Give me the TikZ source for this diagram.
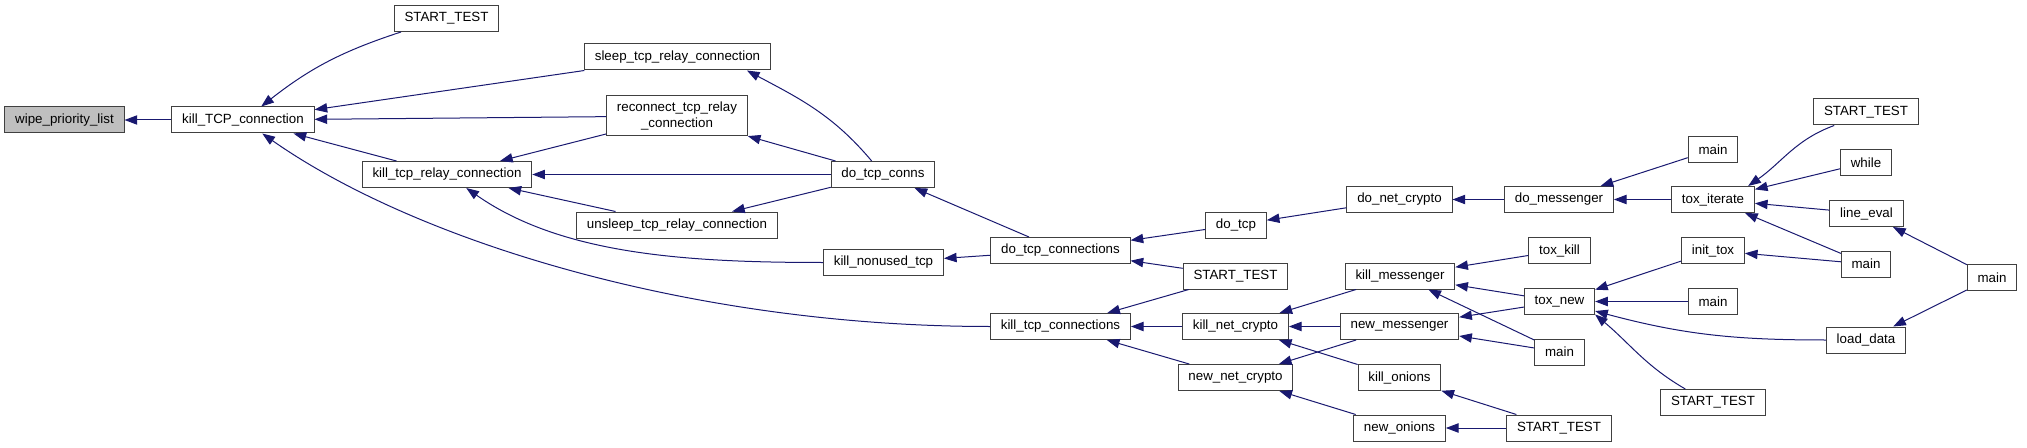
\documentclass[tikz,border=0pt]{standalone}
\usepackage{fontspec}
\setmainfont{Liberation Sans}
\usetikzlibrary{arrows.meta}
\definecolor{midnight}{HTML}{191970}
\definecolor{curgray}{HTML}{BFBFBF}
\begin{document}
\begin{tikzpicture}[x=0.75pt,y=0.75pt,
  func/.style={draw=black!75,line width=0.75pt,fill=white,minimum height=19.5pt,inner xsep=7.7pt,inner ysep=0pt,font=\fontsize{10}{11.5}\selectfont,align=center},
  call/.style={draw=midnight,line width=0.75pt,arrows={Triangle[length=9.5pt,width=7pt,fill=midnight]-}}]
\useasboundingbox (0,0) rectangle (2027,447);
\node[func,fill=curgray] (wipe) at (64.5,327) {wipe\_priority\_list};
\node[func] (ktcp) at (243,327) {kill\_TCP\_connection};
\node[func] (st1) at (446.5,428.5) {START\_TEST};
\node[func] (sleep) at (677.5,390) {sleep\_tcp\_relay\_connection};
\node[func,minimum height=30pt] (reconn) at (677,331) {reconnect\_tcp\_relay\\\_connection};
\node[func] (krelay) at (447,272.5) {kill\_tcp\_relay\_connection};
\node[func] (unsleep) at (677,222) {unsleep\_tcp\_relay\_connection};
\node[func] (conns) at (883,272.5) {do\_tcp\_conns};
\node[func] (nonused) at (883.5,184.5) {kill\_nonused\_tcp};
\node[func] (dtcpc) at (1060.5,196.5) {do\_tcp\_connections};
\node[func] (ktcpc) at (1060.5,120.5) {kill\_tcp\_connections};
\node[func] (dotcp) at (1236,222) {do\_tcp};
\node[func] (st2) at (1235.5,171) {START\_TEST};
\node[func] (knc) at (1235.5,120.5) {kill\_net\_crypto};
\node[func] (nnc) at (1235.5,69.5) {new\_net\_crypto};
\node[func] (dnc) at (1399.5,247.5) {do\_net\_crypto};
\node[func] (kmsg) at (1400,171) {kill\_messenger};
\node[func] (nmsg) at (1399.5,120.5) {new\_messenger};
\node[func] (kon) at (1399.5,69.5) {kill\_onions};
\node[func] (non) at (1399.5,19) {new\_onions};
\node[func] (dmsg) at (1559,247.5) {do\_messenger};
\node[func] (toxkill) at (1559.5,196.5) {tox\_kill};
\node[func] (toxnew) at (1559.5,145.5) {tox\_new};
\node[func] (main1) at (1559.5,95) {main};
\node[func] (st3) at (1559,19) {START\_TEST};
\node[func] (main2) at (1713,297.5) {main};
\node[func] (toxit) at (1713,247.5) {tox\_iterate};
\node[func] (inittox) at (1713,196.5) {init\_tox};
\node[func] (main3) at (1713,145.5) {main};
\node[func] (st4) at (1713,44.5) {START\_TEST};
\node[func] (st5) at (1866,335) {START\_TEST};
\node[func] (whilefn) at (1866,284.5) {while};
\node[func] (lineeval) at (1866.5,233.5) {line\_eval};
\node[func] (main4) at (1866,183) {main};
\node[func] (loaddata) at (1866,107) {load\_data};
\node[func] (main5) at (1992,169.5) {main};
\draw[call] (wipe) -- (ktcp);
\draw[call] (ktcp) to[bend left=10] (st1);
\draw[call] (ktcp) -- (sleep);
\draw[call] (ktcp) -- (reconn);
\draw[call] (ktcp) -- (krelay);
\draw[call] (ktcp) to[out=-35,in=180,out looseness=0.65] (ktcpc);
\draw[call] (krelay) -- (reconn);
\draw[call] (krelay) -- (conns);
\draw[call] (krelay) -- (unsleep);
\draw[call] (krelay) to[out=-35,in=180,out looseness=0.8] (nonused);
\draw[call] (sleep.-11) to[out=-28,in=130] (conns);
\draw[call] (reconn) -- (conns);
\draw[call] (unsleep) -- (conns);
\draw[call] (conns) -- (dtcpc);
\draw[call] (nonused) -- (dtcpc);
\draw[call] (dtcpc) -- (dotcp);
\draw[call] (dtcpc) -- (st2);
\draw[call] (ktcpc) -- (st2);
\draw[call] (ktcpc) -- (knc);
\draw[call] (ktcpc) -- (nnc);
\draw[call] (dotcp) -- (dnc);
\draw[call] (dnc) -- (dmsg);
\draw[call] (knc) -- (kmsg);
\draw[call] (knc) -- (nmsg);
\draw[call] (knc) -- (kon);
\draw[call] (nnc) -- (nmsg);
\draw[call] (nnc) -- (non);
\draw[call] (kon) -- (st3);
\draw[call] (non) -- (st3);
\draw[call] (dmsg) -- (main2);
\draw[call] (dmsg) -- (toxit);
\draw[call] (kmsg) -- (toxkill);
\draw[call] (kmsg) -- (toxnew);
\draw[call] (kmsg) -- (main1);
\draw[call] (nmsg) -- (toxnew);
\draw[call] (nmsg) -- (main1);
\draw[call] (toxit.21) to[out=35,in=200] (st5.203);
\draw[call] (toxit) -- (whilefn);
\draw[call] (toxit) -- (lineeval);
\draw[call] (toxit) -- (main4);
\draw[call] (toxnew) -- (inittox);
\draw[call] (toxnew) -- (main3);
\draw[call] (toxnew) to[out=-15,in=180] (loaddata);
\draw[call] (toxnew.-20) to[out=-40,in=150] (st4.154);
\draw[call] (inittox) -- (main4);
\draw[call] (lineeval) -- (main5);
\draw[call] (loaddata) -- (main5);
\end{tikzpicture}
\end{document}
